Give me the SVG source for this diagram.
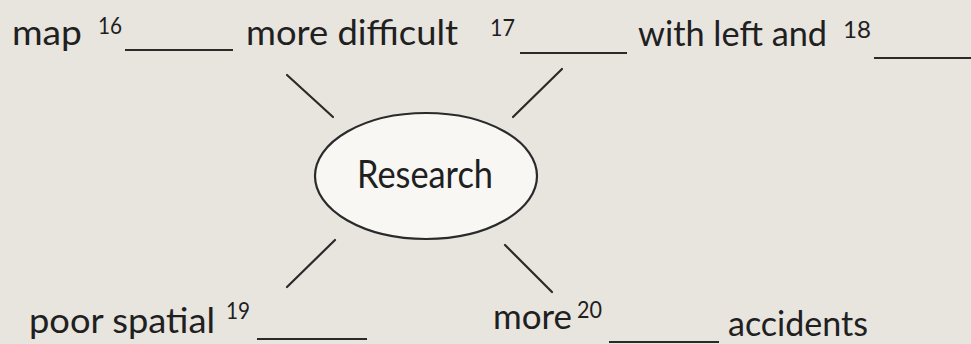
<svg xmlns="http://www.w3.org/2000/svg" width="971" height="344" viewBox="0 0 971 344">
<style>
.t{font-family:Lato,"Open Sans","Liberation Sans",sans-serif;font-size:35px;fill:#202020}
.s{font-family:Lato,"Open Sans","Liberation Sans",sans-serif;font-size:24px;fill:#202020}
.u{stroke:#2a2a2a;stroke-width:2;fill:none}
.c{stroke:#2a2a2a;stroke-width:2.2;stroke-linecap:round;fill:none}
</style>
<rect width="971" height="344" fill="#e8e4de"/>
<g id="connectors">
<line class="c" x1="287" y1="75" x2="333" y2="117"/>
<line class="c" x1="562" y1="69" x2="513" y2="117"/>
<line class="c" x1="335" y1="240" x2="287" y2="287"/>
<line class="c" x1="505" y1="245" x2="552" y2="292"/>
</g>
<g id="research">
<ellipse cx="426" cy="176" rx="111" ry="63" fill="#f8f7f4" stroke="#2a2a2a" stroke-width="2.2"/>
<text class="t" x="357" y="188" style="font-size:38px" textLength="136" lengthAdjust="spacingAndGlyphs">Research</text>
</g>
<g id="node16">
<text class="t" x="12" y="45" textLength="70" lengthAdjust="spacingAndGlyphs">map</text>
<text class="s" x="98" y="34" textLength="24" lengthAdjust="spacingAndGlyphs">16</text>
<line class="u" x1="125" y1="50" x2="233" y2="50"/>
<text class="t" x="246" y="45" textLength="212" lengthAdjust="spacingAndGlyphs">more difficult</text>
</g>
<g id="node17">
<text class="s" x="490" y="36" textLength="25" lengthAdjust="spacingAndGlyphs">17</text>
<line class="u" x1="520" y1="53" x2="627" y2="53"/>
<text class="t" x="638" y="46" textLength="189" lengthAdjust="spacingAndGlyphs">with left and</text>
</g>
<g id="node18">
<text class="s" x="843" y="38" textLength="28" lengthAdjust="spacingAndGlyphs">18</text>
<line class="u" x1="874" y1="58" x2="971" y2="58"/>
</g>
<g id="node19">
<text class="t" x="29" y="333" textLength="186" lengthAdjust="spacingAndGlyphs">poor spatial</text>
<text class="s" x="226" y="319" textLength="24" lengthAdjust="spacingAndGlyphs">19</text>
<line class="u" x1="257" y1="339" x2="367" y2="339"/>
</g>
<g id="node20">
<text class="t" x="493" y="329" textLength="79" lengthAdjust="spacingAndGlyphs">more</text>
<text class="s" x="577" y="318" textLength="25" lengthAdjust="spacingAndGlyphs">20</text>
<line class="u" x1="609" y1="342" x2="719" y2="342"/>
<text class="t" x="728" y="336" textLength="140" lengthAdjust="spacingAndGlyphs">accidents</text>
</g>
</svg>
